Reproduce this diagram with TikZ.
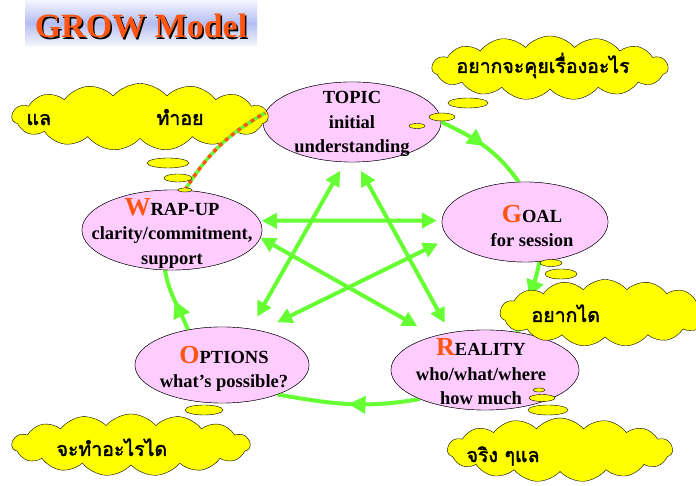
\documentclass[tikz,border=0pt]{standalone}
\usepackage{fontspec}
\setmainfont{Liberation Serif}
\newfontfamily\thaifont[Script=Thai, BoldFont=*, BoldFeatures={FakeBold=2}]{Loma}
\usetikzlibrary{arrows.meta,shapes.geometric,shapes.symbols,decorations.markings}

\definecolor{stagepink}{RGB}{255,204,255}
\definecolor{linkgreen}{RGB}{102,255,51}
\definecolor{initred}{RGB}{255,85,17}
\definecolor{puffyellow}{RGB}{255,255,0}
\definecolor{titleblue}{RGB}{180,190,242}
\definecolor{titlepale}{RGB}{246,246,253}

\newcommand{\initial}[1]{{\fontsize{26}{26}\selectfont\color{initred}#1}}

\begin{document}
\begin{tikzpicture}[x=1pt, y=1pt,
  stage/.style={ellipse, draw, thin, fill=stagepink, inner sep=0pt},
  stagetext/.style={align=center, font=\fontsize{18.5}{24.5}\selectfont\bfseries},
  link/.style={draw=linkgreen, line width=4pt, {Triangle[length=15pt,width=15pt]}-{Triangle[length=15pt,width=15pt]}},
  flow/.style={draw=linkgreen, color=linkgreen, line width=4pt, postaction={decorate},
    decoration={markings, mark=at position 0.5 with {\arrow{Triangle[length=17pt,width=17pt]}}}},
  dashlink/.style={draw=linkgreen, line width=3.5pt, postaction={draw=initred, line width=3.5pt, dash pattern=on 4pt off 4pt}},
  thought/.style={cloud, cloud puffs=15, cloud puff arc=100, cloud ignores aspect, draw, thin, fill=puffyellow, inner sep=0pt},
  puff/.style={ellipse, draw, thin, fill=puffyellow, inner sep=0pt},
  thai/.style={anchor=base west, font=\thaifont\fontsize{19.5}{19.5}\selectfont\bfseries}
]
  \path[use as bounding box, fill=white] (0,0) rectangle (696,486);

  % the five stages
  \node[stage, minimum width=178pt, minimum height=80pt] (topic) at (352,364) {};
  \node[stage, minimum width=166pt, minimum height=80pt] (goal) at (525,264) {};
  \node[stage, minimum width=188pt, minimum height=80pt] (reality) at (485,116) {};
  \node[stage, minimum width=174pt, minimum height=76pt] (options) at (222,121) {};
  \node[stage, minimum width=180pt, minimum height=80pt] (wrapup) at (172,256) {};

  % cycle round the outside
  \draw[flow] (topic.0) to[out=-25, in=125] (goal.99);
  \draw[flow] (goal.-70) to[out=-100, in=75] (reality.50);
  \draw[flow] (reality.-156) to[out=-170, in=-10] (options.-28);
  \draw[flow] (options.134) to[out=112, in=-80] (wrapup.-100);

  % redraw stages on top of the arcs
  \node[stage, minimum width=178pt, minimum height=80pt] at (topic) {};
  \node[stage, minimum width=166pt, minimum height=80pt] at (goal) {};
  \node[stage, minimum width=188pt, minimum height=80pt] at (reality) {};
  \node[stage, minimum width=174pt, minimum height=76pt] at (options) {};
  \node[stage, minimum width=180pt, minimum height=80pt] at (wrapup) {};

  \node[stagetext] (topictext) at (352,362) {TOPIC\\initial\\understanding};
  \node[stagetext] (goaltext) at (532,260) {\initial{G}OAL\\for session};
  \node[stagetext] (realitytext) at (481,114) {\initial{R}EALITY\\who/what/where\\how much};
  \node[stagetext] (optionstext) at (224,117) {\initial{O}PTIONS\\what's possible?};
  \node[stagetext] (wrapuptext) at (172,253) {\initial{W}RAP-UP\\clarity/commitment,\\support};

  % star of links
  \draw[link, shorten <=10pt, shorten >=14pt] (topic.-100) -- (options.52);
  \draw[link, shorten <=10pt, shorten >=11pt] (topic.-84) -- (reality.133);
  \draw[link, shorten >=20pt] (wrapup.-5) -- (reality.146);
  \draw[link, shorten <=19pt, shorten >=12pt] (options.42) -- (goal.-168);
  \draw[link, shorten <=2pt, shorten >=5pt] (wrapup.6) -- (goal.179);

  % thought clouds
  \node[puff, minimum width=40pt, minimum height=10pt] (toppuff1) at (468,383) {};
  \node[puff, minimum width=26pt, minimum height=8pt] (toppuff2) at (442,369) {};
  \node[puff, minimum width=16pt, minimum height=5pt] (toppuff3) at (417,360) {};
  \node[thought, minimum width=236pt, minimum height=64pt] (topcloud) at (550,418) {};
  \node[thai] (topthought) at (453,413) {อยากจะคุยเรื่องอะไร};

  \node[thought, minimum width=256pt, minimum height=67pt] (leftcloud) at (140,369) {};
  \node[thai] (leftthought1) at (23,361) {แล};
  \node[thai] (leftthought2) at (153,361) {ทำอย};
  \draw[dashlink] (wrapup.72) to[out=58, in=-150] (topic.174);
  \node[puff, minimum width=42pt, minimum height=10pt] (leftpuff1) at (168,323) {};
  \node[puff, minimum width=28pt, minimum height=8pt] (leftpuff2) at (178,308) {};
  \node[puff, minimum width=14pt, minimum height=4pt] (leftpuff3) at (185,296) {};

  \node[puff, minimum width=22pt, minimum height=7pt] (rightpuff1) at (551,223) {};
  \node[puff, minimum width=32pt, minimum height=10pt] (rightpuff2) at (561,212) {};
  \node[thought, minimum width=210pt, minimum height=67pt] (rightcloud) at (605,173) {};
  \node[thai] (rightthought) at (528,164) {อยากได};

  \node[puff, minimum width=38pt, minimum height=10pt] (botleftpuff) at (204,76) {};
  \node[thought, minimum width=238pt, minimum height=62pt] (botleftcloud) at (131,41) {};
  \node[thai] (botleftthought) at (53,30) {จะทำอะไรได};

  \node[puff, minimum width=12pt, minimum height=4pt] (botrightpuff1) at (539,96) {};
  \node[puff, minimum width=26pt, minimum height=7pt] (botrightpuff2) at (542,88) {};
  \node[puff, minimum width=40pt, minimum height=10pt] (botrightpuff3) at (548,76) {};
  \node[thought, minimum width=225pt, minimum height=64pt] (botrightcloud) at (560,36) {};
  \node[thai] (botrightthought) at (463,24) {จริง ๆแล};

  % title
  \shade[top color=titlepale, bottom color=titlepale, middle color=titleblue] (25,440) rectangle (257,486);
  \node[anchor=base, font=\fontsize{34}{34}\selectfont\bfseries, text=black] (titleshadow) at (142.5,446.5) {GROW Model};
  \node[anchor=base, font=\fontsize{34}{34}\selectfont\bfseries, text=initred] (title) at (141,448) {GROW Model};
\end{tikzpicture}
\end{document}
